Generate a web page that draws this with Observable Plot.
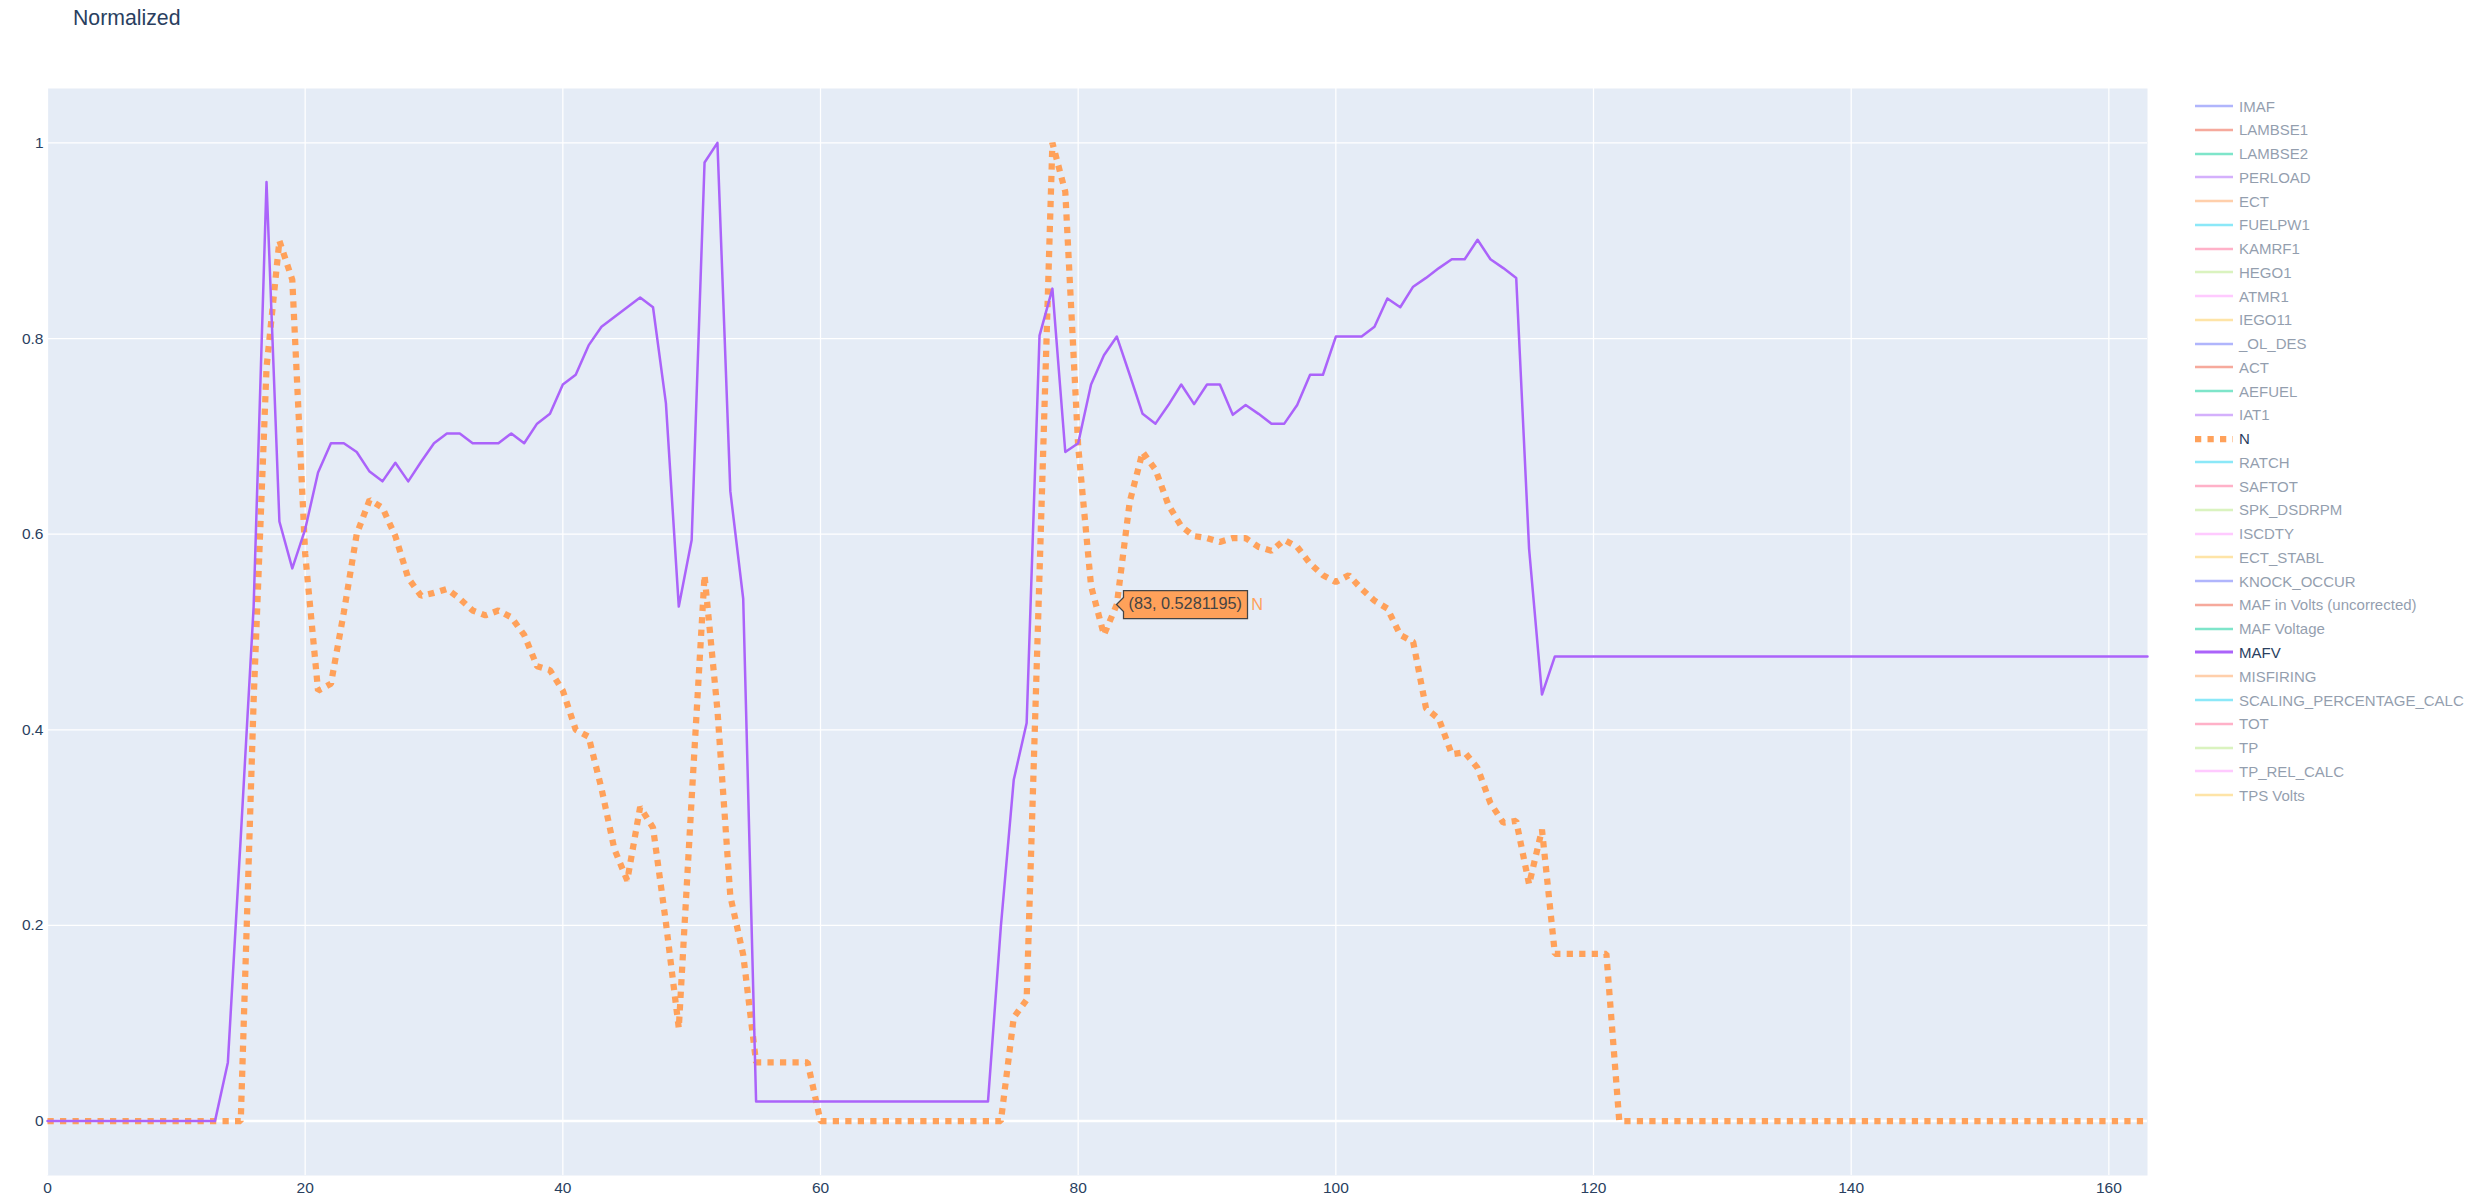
<!DOCTYPE html>
<html>
<head>
<meta charset="utf-8">
<script src="https://cdn.jsdelivr.net/npm/d3@7"></script>
<script src="https://cdn.jsdelivr.net/npm/@observablehq/plot@0.6"></script>
<style>
html, body { margin: 0; padding: 0; background: #fff; }
#wrap { position: relative; width: 2469px; height: 1197px; overflow: hidden; font-family: "Liberation Sans", Arial, sans-serif; }
#chart { position: absolute; left: 0; top: 0; }
#title { position: absolute; left: 73px; top: 8px; font-size: 21.25px; line-height: 1; color: #2a3f5f; white-space: nowrap; }
#legend { position: absolute; left: 2195px; top: 0; }
.item { position: absolute; left: 0; height: 24px; display: flex; align-items: center; white-space: nowrap; font-size: 15px; color: #2a3f5f; }
.item svg { flex: none; margin-right: 6px; }
#chart g[aria-label="tip"] text { fill: #444; }
#chart g[aria-label="tip"] path { filter: none !important; }
</style>
</head>
<body>
<div id="wrap">
  <div id="chart"></div>
  <div id="title">Normalized</div>
  <div id="legend"></div>
</div>
<script>
// ---- data ----
const seriesNames = ["IMAF", "LAMBSE1", "LAMBSE2", "PERLOAD", "ECT", "FUELPW1", "KAMRF1", "HEGO1", "ATMR1", "IEGO11",
  "_OL_DES", "ACT", "AEFUEL", "IAT1", "N", "RATCH", "SAFTOT", "SPK_DSDRPM", "ISCDTY", "ECT_STABL",
  "KNOCK_OCCUR", "MAF in Volts (uncorrected)", "MAF Voltage", "MAFV", "MISFIRING", "SCALING_PERCENTAGE_CALC",
  "TOT", "TP", "TP_REL_CALC", "TPS Volts"];
const visibleSeries = ["N", "MAFV"];
const colorway = ["#636efa", "#EF553B", "#00cc96", "#ab63fa", "#FFA15A", "#19d3f3", "#FF6692", "#B6E880", "#FF97FF", "#FECB52"];

const xTicks = [0, 20, 40, 60, 80, 100, 120, 140, 160];
const yTicks = [0, 0.2, 0.4, 0.6, 0.8, 1];

// normalized N (engine speed), samples 0..163
const nValues = [
  0, 0, 0, 0, 0, 0, 0, 0, 0, 0, 0, 0, 0, 0, 0, 0,
  0.43, 0.77, 0.90, 0.86, 0.58, 0.44, 0.447, 0.52, 0.60, 0.635,
  0.627, 0.598, 0.555, 0.537, 0.54, 0.544, 0.534, 0.522, 0.517, 0.522,
  0.515, 0.497, 0.465, 0.461, 0.44, 0.40, 0.393, 0.34, 0.278, 0.246,
  0.321, 0.30, 0.203, 0.095, 0.33, 0.558, 0.42, 0.23, 0.17,
  0.06, 0.06, 0.06, 0.06, 0.06,
  0, 0, 0, 0, 0, 0, 0, 0, 0, 0, 0, 0, 0, 0, 0,
  0.106, 0.124, 0.56, 1.0, 0.95, 0.69, 0.547, 0.497, 0.5281195, 0.633,
  0.684, 0.666, 0.63, 0.608, 0.598, 0.596, 0.592, 0.596, 0.596, 0.587,
  0.583, 0.594, 0.587, 0.57, 0.558, 0.551, 0.558, 0.544, 0.532, 0.524,
  0.497, 0.49, 0.422, 0.411, 0.375, 0.377, 0.361, 0.325, 0.305, 0.307,
  0.242, 0.298,
  0.171, 0.171, 0.171, 0.171, 0.171,
  0, 0, 0, 0, 0, 0, 0, 0, 0, 0, 0, 0, 0, 0, 0, 0, 0, 0, 0, 0, 0,
  0, 0, 0, 0, 0, 0, 0, 0, 0, 0, 0, 0, 0, 0, 0, 0, 0, 0, 0, 0, 0
];

// normalized MAFV, samples 0..163
const mafvValues = [
  0, 0, 0, 0, 0, 0, 0, 0, 0, 0, 0, 0, 0, 0,
  0.06, 0.29, 0.526, 0.96, 0.613, 0.565, 0.605, 0.663, 0.693, 0.693,
  0.684, 0.664, 0.654, 0.673, 0.654, 0.674, 0.693, 0.703, 0.703, 0.693,
  0.693, 0.693, 0.703, 0.693, 0.713, 0.723, 0.753, 0.763, 0.793, 0.812,
  0.822, 0.832, 0.842, 0.832, 0.734, 0.526, 0.594, 0.98, 1.0, 0.644, 0.534,
  0.02, 0.02, 0.02, 0.02, 0.02, 0.02, 0.02, 0.02, 0.02, 0.02,
  0.02, 0.02, 0.02, 0.02, 0.02, 0.02, 0.02, 0.02, 0.02,
  0.199, 0.349, 0.407, 0.803, 0.851, 0.684, 0.693, 0.753, 0.783, 0.802,
  0.763, 0.723, 0.713, 0.732, 0.753, 0.733, 0.753, 0.753, 0.722, 0.732,
  0.723, 0.713, 0.713, 0.732, 0.763, 0.763, 0.802, 0.802, 0.802, 0.812,
  0.841, 0.832, 0.853, 0.862, 0.872, 0.881, 0.881, 0.901, 0.881, 0.872,
  0.862, 0.585, 0.436,
  0.475, 0.475, 0.475, 0.475, 0.475, 0.475, 0.475, 0.475, 0.475, 0.475,
  0.475, 0.475, 0.475, 0.475, 0.475, 0.475, 0.475, 0.475, 0.475, 0.475,
  0.475, 0.475, 0.475, 0.475, 0.475, 0.475, 0.475, 0.475, 0.475, 0.475,
  0.475, 0.475, 0.475, 0.475, 0.475, 0.475, 0.475, 0.475, 0.475, 0.475,
  0.475, 0.475, 0.475, 0.475, 0.475, 0.475, 0.475
];

const hoverIndex = 83;

// ---- build ----
const colorOf = name => colorway[seriesNames.indexOf(name) % colorway.length];
const nData = nValues.map((v, i) => ({x: i, y: v}));
const mafvData = mafvValues.map((v, i) => ({x: i, y: v}));
const hoverData = [{x: hoverIndex, y: nValues[hoverIndex], name: "N"}];

const plot = Plot.plot({
  width: 2469,
  height: 1197,
  marginLeft: 47,
  marginRight: 322,
  marginTop: 88,
  marginBottom: 22,
  style: {background: "transparent", fontFamily: "'Liberation Sans', Arial, sans-serif", color: "#2a3f5f", overflow: "visible"},
  x: {domain: [0, 163]},
  y: {domain: [-0.0556, 1.0556]},
  marks: [
    Plot.frame({fill: "#E5ECF6", stroke: null}),
    Plot.gridX(xTicks, {stroke: "#fff", strokeOpacity: 1, strokeWidth: 1.25}),
    Plot.gridY(yTicks, {stroke: "#fff", strokeOpacity: 1, strokeWidth: 1.25}),
    Plot.ruleY([0], {stroke: "#fff", strokeWidth: 2.5}),
    Plot.axisX(xTicks, {tickSize: 0, tickPadding: 6, fontSize: 15.5, fill: "#2a3f5f", label: null}),
    Plot.axisY(yTicks, {tickSize: 0, tickPadding: 4, fontSize: 15.5, fill: "#2a3f5f", label: null, tickFormat: d3.format("~g")}),
    Plot.line(nData, {x: "x", y: "y", stroke: colorOf("N"), strokeWidth: 6.25, strokeDasharray: "6.25,6.25",
      strokeLinecap: "butt", strokeLinejoin: "miter"}),
    Plot.line(mafvData, {x: "x", y: "y", stroke: colorOf("MAFV"), strokeWidth: 2.5}),
    Plot.tip(hoverData, {x: "x", y: "y", title: d => `(${d.x}, ${d.y})`, anchor: "left",
      fill: colorOf("N"), stroke: "#444", strokeWidth: 1.25, fontSize: 16.25, textPadding: 5, pointerSize: 14}),
    Plot.text(hoverData, {x: "x", y: "y", text: "name", dx: 134.5, textAnchor: "start", fill: colorOf("N"), fontSize: 16.25})
  ]
});
document.getElementById("chart").appendChild(plot);

// ---- legend ----
const legend = document.getElementById("legend");
seriesNames.forEach((name, i) => {
  const item = document.createElement("div");
  item.className = "item";
  item.style.top = (106 - 12 + i * 23.76) + "px";
  const shown = visibleSeries.includes(name);
  if (!shown) item.style.opacity = 0.5;
  const isN = name === "N";
  const svgNS = "http://www.w3.org/2000/svg";
  const sw = document.createElementNS(svgNS, "svg");
  sw.setAttribute("width", 38);
  sw.setAttribute("height", 10);
  const ln = document.createElementNS(svgNS, "line");
  ln.setAttribute("x1", 0); ln.setAttribute("x2", 38);
  ln.setAttribute("y1", 5); ln.setAttribute("y2", 5);
  ln.setAttribute("stroke", colorOf(name));
  ln.setAttribute("stroke-width", isN ? 6.25 : (shown ? 3 : 2.5));
  if (isN) ln.setAttribute("stroke-dasharray", "6.25,6.25");
  sw.appendChild(ln);
  item.appendChild(sw);
  const t = document.createElement("span");
  t.textContent = name;
  item.appendChild(t);
  legend.appendChild(item);
});
</script>
</body>
</html>
